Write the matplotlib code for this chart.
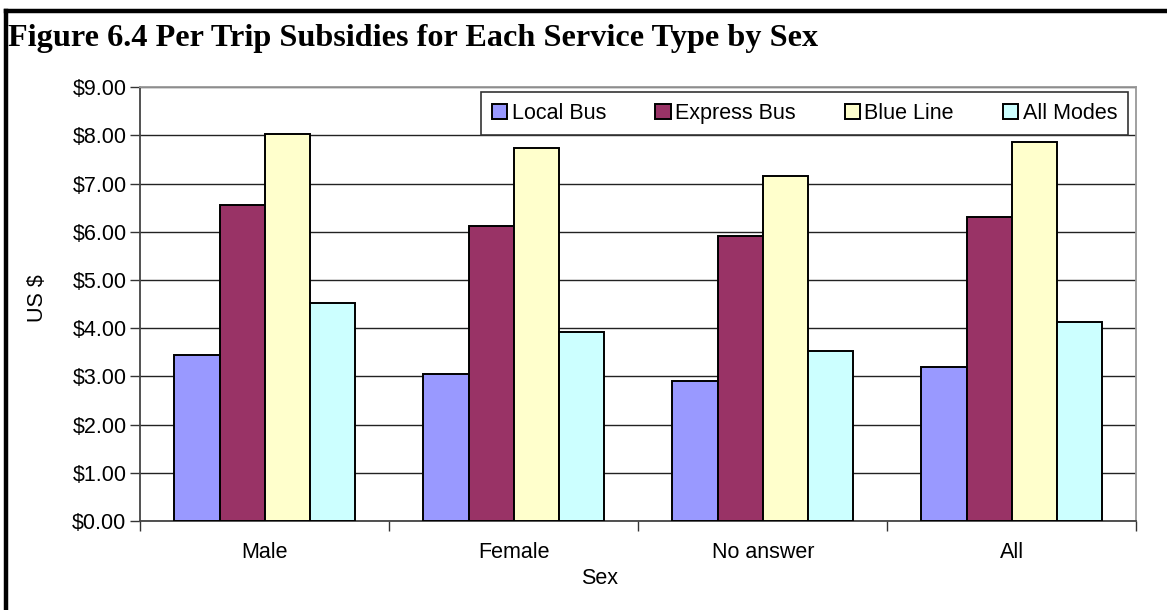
import numpy as np
import matplotlib
matplotlib.use('Agg')
import matplotlib.pyplot as plt
from matplotlib.ticker import FuncFormatter

# data
categories = ['Male', 'Female', 'No answer', 'All']
series_names = ['Local Bus', 'Express Bus', 'Blue Line', 'All Modes']
local_bus = [3.44, 3.06, 2.90, 3.19]
express_bus = [6.55, 6.13, 5.91, 6.30]
blue_line = [8.04, 7.75, 7.15, 7.87]
all_modes = [4.52, 3.92, 3.53, 4.12]
colors = ['#9999FF', '#993366', '#FFFFCC', '#CCFFFF']

plt.rcParams['font.family'] = ['Liberation Sans', 'DejaVu Sans']
fs = 15.5

fig = plt.figure(figsize=(11.67, 6.10), dpi=100)
ax = fig.add_axes([0.1203, 0.1459, 0.8534, 0.711])

# outer frame of the figure box (only top and left are visible)
fig.add_artist(plt.Line2D([5.5 / 1167, 1.01], [1 - 10.5 / 610, 1 - 10.5 / 610],
                          transform=fig.transFigure, color='black', lw=3.2))
fig.add_artist(plt.Line2D([5.5 / 1167, 5.5 / 1167], [1 - 10.5 / 610, -0.01],
                          transform=fig.transFigure, color='black', lw=3.2))

fig.text(8 / 1167, 1 - 46 / 610, 'Figure 6.4 Per Trip Subsidies for Each Service Type by Sex',
         family='Liberation Serif', fontweight='bold', fontsize=23.2, va='baseline', ha='left')

x = np.arange(len(categories))
w = 1 / 5.5
all_series = [local_bus, express_bus, blue_line, all_modes]
for i, vals in enumerate(all_series):
    ax.bar(x + (i - 1.5) * w, vals, w, color=colors[i], edgecolor='black',
           linewidth=1.4, label=series_names[i], zorder=3)

ax.set_xlim(-0.5, 3.5)
ax.set_ylim(0, 9)
ax.set_yticks(np.arange(0, 10, 1))
ax.yaxis.set_major_formatter(FuncFormatter(lambda v, p: '$%.2f' % v))
ax.grid(axis='y', color='#222222', lw=1.0, zorder=0)
ax.set_xticks(x)
ax.set_xticklabels(categories)
ax.set_xticks(np.arange(-0.5, 4, 1), minor=True)
ax.tick_params(axis='x', which='major', length=0, labelsize=fs, pad=15)
ax.tick_params(axis='x', which='minor', length=7, width=1, direction='out', color='#333333')
ax.tick_params(axis='y', length=7, width=1, direction='out', labelsize=fs, pad=3, color='#333333')

ax.spines['left'].set_color('#444444')
ax.spines['bottom'].set_color('#444444')
ax.spines['top'].set_color('#999999')
ax.spines['right'].set_color('#999999')
for s in ax.spines.values():
    s.set_linewidth(1.3)

fig.text(37 / 1167, 1 - 298 / 610, 'US $', rotation=90, fontsize=fs, ha='center', va='center')
fig.text(600 / 1167, 1 - 578 / 610, 'Sex', fontsize=fs, ha='center', va='center')

leg = ax.legend(loc='upper right', bbox_to_anchor=(0.9666, 0.8492), bbox_transform=fig.transFigure,
                ncol=4, fontsize=fs, frameon=True, fancybox=False, handlelength=0.7,
                handleheight=0.7, handletextpad=0.2, columnspacing=2.3, borderpad=0.5,
                borderaxespad=0)
leg.get_frame().set_edgecolor('#333333')
leg.get_frame().set_linewidth(1.2)
leg.get_frame().set_alpha(1)

fig.savefig('out.png', dpi=100)
